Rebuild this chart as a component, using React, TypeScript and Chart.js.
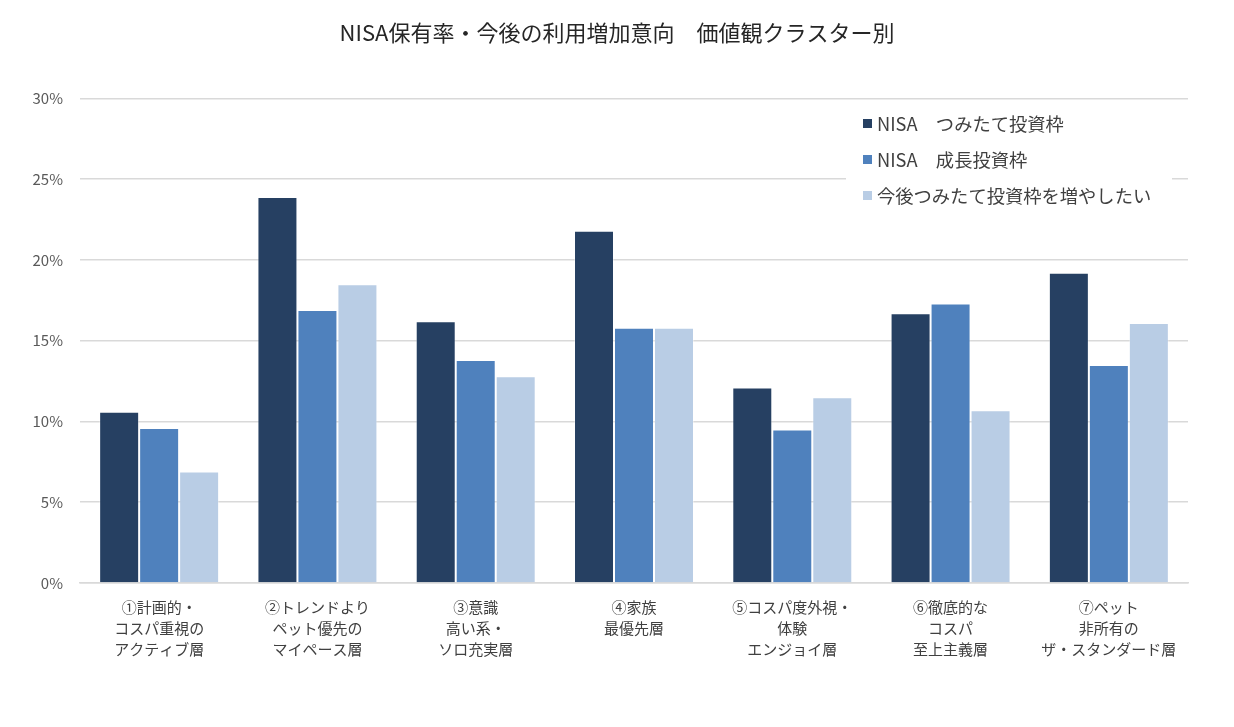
import { useEffect, useRef } from "react";
import Chart, { ChartConfiguration, Plugin } from "chart.js/auto";

const categories: string[][] = [
  ["①計画的・", "コスパ重視の", "アクティブ層"],
  ["②トレンドより", "ペット優先の", "マイペース層"],
  ["③意識", "高い系・", "ソロ充実層"],
  ["④家族", "最優先層"],
  ["⑤コスパ度外視・", "体験", "エンジョイ層"],
  ["⑥徹底的な", "コスパ", "至上主義層"],
  ["⑦ペット", "非所有の", "ザ・スタンダード層"],
];

const seriesNames = [
  "NISA　つみたて投資枠",
  "NISA　成長投資枠",
  "今後つみたて投資枠を増やしたい",
];

const tsumitate = [10.6, 23.9, 16.2, 21.8, 12.1, 16.7, 19.2];
const seicho = [9.6, 16.9, 13.8, 15.8, 9.5, 17.3, 13.5];
const fuyashitai = [6.9, 18.5, 12.8, 15.8, 11.5, 10.7, 16.1];

const colors = ["#264062", "#4F81BD", "#B9CDE5"];
const FONT = "'Noto Sans CJK JP', 'Noto Sans', sans-serif";

// legend drawn inside the plot area on a white box
const innerLegend: Plugin<"bar"> = {
  id: "innerLegend",
  afterDatasetsDraw(chart) {
    const ctx = chart.ctx;
    ctx.save();
    ctx.fillStyle = "#ffffff";
    ctx.fillRect(846, 106, 326, 108);
    ctx.font = `18.3px ${FONT}`;
    ctx.textBaseline = "middle";
    chart.data.datasets.forEach((ds, i) => {
      const y = 124 + i * 36;
      ctx.fillStyle = ds.backgroundColor as string;
      ctx.fillRect(863, y - 5, 9, 9);
      ctx.fillStyle = "#404040";
      ctx.fillText(ds.label as string, 877, y);
    });
    ctx.restore();
  },
};

const App = () => {
  const canvasRef = useRef<HTMLCanvasElement | null>(null);
  const chartRef = useRef<Chart<"bar"> | null>(null);

  useEffect(() => {
    const config: ChartConfiguration<"bar"> = {
      type: "bar",
      data: {
        labels: categories,
        datasets: [tsumitate, seicho, fuyashitai].map((d, i) => ({
          label: seriesNames[i],
          data: d,
          backgroundColor: colors[i],
          borderColor: "rgba(255,255,255,0.35)",
          borderWidth: 1,
          categoryPercentage: 0.758,
          barPercentage: 1,
        })),
      },
      options: {
        animation: false,
        responsive: false,
        layout: { padding: 0 },
        plugins: {
          legend: { display: false },
          tooltip: { enabled: false },
          title: {
            display: true,
            text: "NISA保有率・今後の利用増加意向　価値観クラスター別",
            color: "#262626",
            font: { family: FONT, size: 22, weight: "normal" },
            padding: { top: 19, bottom: 53 },
          },
        },
        scales: {
          x: {
            grid: { display: false },
            border: { color: "#d9d9d9", width: 1.5 },
            ticks: {
              color: "#404040",
              font: { family: FONT, size: 15, lineHeight: 1.4 },
              padding: 6,
              maxRotation: 0,
              autoSkip: false,
            },
            afterFit(scale) {
              scale.height = 144;
            },
          },
          y: {
            min: 0,
            max: 30,
            grid: { color: "#d9d9d9", lineWidth: 1.5, drawTicks: false },
            border: { display: false },
            ticks: {
              stepSize: 5,
              color: "#595959",
              padding: 17,
              font: { family: FONT, size: 15 },
              callback: (v) => `${v}%`,
            },
            afterFit(scale) {
              scale.width = 80;
            },
          },
          // empty right-hand axis, only keeps the right margin
          yRight: {
            position: "right",
            min: 0,
            max: 30,
            grid: { drawOnChartArea: false, drawTicks: false },
            border: { display: false },
            ticks: { display: false },
            afterFit(scale) {
              scale.width = 46;
            },
          },
        },
      },
      plugins: [innerLegend],
    };

    if (chartRef.current) chartRef.current.destroy();
    if (canvasRef.current) chartRef.current = new Chart(canvasRef.current, config);

    return () => {
      if (chartRef.current) {
        chartRef.current.destroy();
        chartRef.current = null;
      }
    };
  }, []);

  return (
    <div style={{ position: "fixed", left: 0, top: 0, width: 1234, height: 727, background: "#fff" }}>
      <canvas ref={canvasRef} width={1234} height={727} style={{ width: 1234, height: 727 }} />
    </div>
  );
};

export default App;
